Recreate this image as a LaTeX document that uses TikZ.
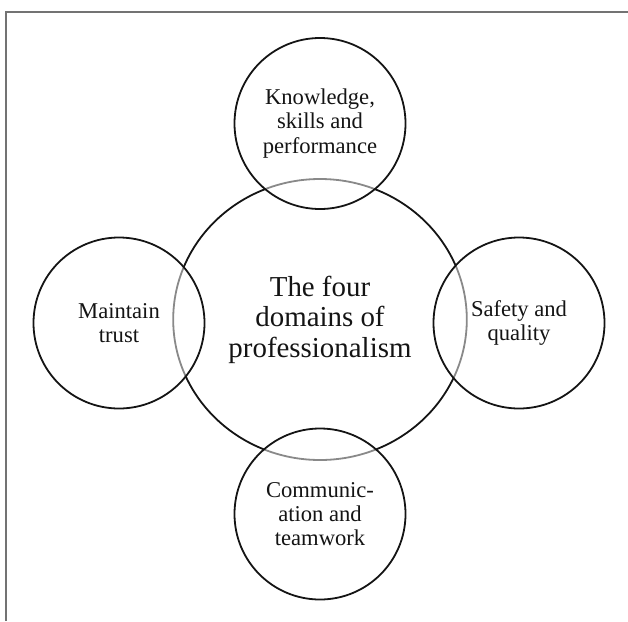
\documentclass[tikz,border=0pt]{standalone}
\usepackage{fontspec}
\setmainfont{Liberation Serif}
\usetikzlibrary{shapes.geometric}

\begin{document}
\begin{tikzpicture}[x=1pt,y=-1pt,
  hub/.style={ellipse,draw=black!92,line width=1.8pt,minimum width=293.6pt,
    minimum height=281pt,inner sep=0pt,align=center,text=black!92,
    font=\fontsize{28.9}{30.6}\selectfont},
  areacirc/.style={circle,draw=black!92,line width=1.8pt,minimum size=171pt,
    inner sep=0pt,fill=white,fill opacity=0.5,text opacity=1,align=center,
    text=black!92,font=\fontsize{22.6}{24.2}\selectfont}]
  \useasboundingbox (0,0) rectangle (628,621);
  \draw[line width=2pt,black!55] (5.5,621) -- (5.5,11.5) -- (628,11.5);
  %
  \node[hub] (core) at (320,319.5) {The four\\domains of\\professionalism};
  %
  \node[areacirc] (knowledge) at (320,123.5) {Knowledge,\\skills and\\performance};
  \node[areacirc] (trust) at (119,323) {Maintain\\trust};
  \node[areacirc] (safety) at (519,323) {Safety and\\quality};
  \node[areacirc] (communication) at (320,514) {Communic-\\ation and\\teamwork};
\end{tikzpicture}
\end{document}
